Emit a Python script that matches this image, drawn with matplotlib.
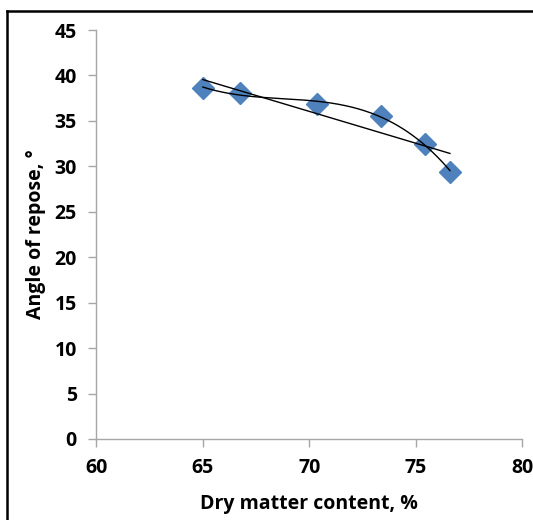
import numpy as np
import matplotlib.pyplot as plt
from matplotlib.lines import Line2D

# Angle of repose vs dry matter content
dry_matter = [65.0, 66.75, 70.38, 73.35, 75.43, 76.6]
angle = [38.6, 38.1, 36.9, 35.5, 32.5, 29.4]

x_ticks = [60, 65, 70, 75, 80]
y_ticks = [0, 5, 10, 15, 20, 25, 30, 35, 40, 45]

plt.rcParams['font.family'] = ['Open Sans', 'DejaVu Sans']

fig = plt.figure(figsize=(5.33, 5.2), dpi=100)
ax = fig.add_axes([0.1807, 0.1558, 0.7993, 0.7865])

# outer chart frame (left and top edges)
fx, fy = 6.5 / 533, 1 - 10.5 / 520
fig.add_artist(Line2D([fx, fx], [0, fy], transform=fig.transFigure,
                      color='black', lw=1.8))
fig.add_artist(Line2D([fx, 1], [fy, fy], transform=fig.transFigure,
                      color='black', lw=1.8))

ax.plot(dry_matter, angle, linestyle='none', marker='D', markersize=11,
        color='#4F81BD', zorder=2)

# linear and cubic trendlines
xs = np.linspace(min(dry_matter), max(dry_matter), 200)
lin = np.polyfit(dry_matter, angle, 1)
cub = np.polyfit(dry_matter, angle, 3)
ax.plot(xs, np.polyval(lin, xs), color='black', lw=1.0, zorder=3)
ax.plot(xs, np.polyval(cub, xs), color='black', lw=1.0, zorder=3)

ax.set_xlim(60, 80)
ax.set_ylim(0, 45)
ax.set_xticks(x_ticks)
ax.set_yticks(y_ticks)

for side in ['top', 'right']:
    ax.spines[side].set_visible(False)
for side in ['left', 'bottom']:
    ax.spines[side].set_color('#A6A6A6')
    ax.spines[side].set_linewidth(1.0)

ax.tick_params(axis='both', direction='out', length=6, width=1.0,
               color='#A6A6A6', labelsize=14, pad=8)
for lbl in ax.get_xticklabels() + ax.get_yticklabels():
    lbl.set_fontweight('bold')

ax.set_xlabel('Dry matter content, %', fontsize=14, fontweight='bold', labelpad=11)
ax.set_ylabel('Angle of repose, °', fontsize=14, fontweight='bold', labelpad=6)

fig.savefig('out.png', dpi=100)
